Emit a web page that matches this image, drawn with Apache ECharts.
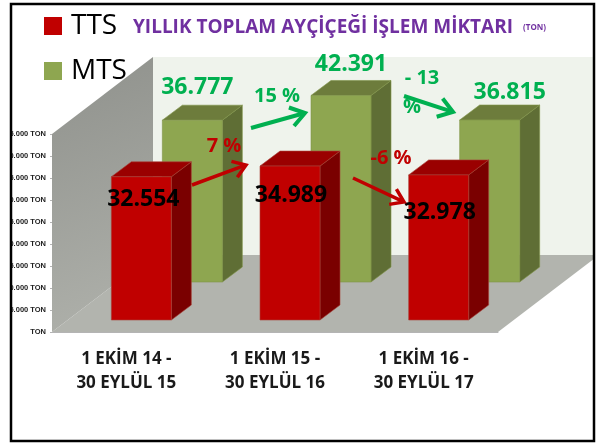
<!DOCTYPE html>
<html><head><meta charset="utf-8">
<style>html,body{margin:0;padding:0;background:#fff}#c{width:599px;height:443px}</style>
<script src="https://cdn.jsdelivr.net/npm/echarts@6/dist/echarts.min.js"></script></head>
<body><div id="c"></div>
<script>
const categories = ['1 EKİM 14 -\n30 EYLÜL 15', '1 EKİM 15 -\n30 EYLÜL 16', '1 EKİM 16 -\n30 EYLÜL 17'];
const ttsValues = [32554, 34989, 32978];
const mtsValues = [36777, 42391, 36815];
const yTicks = ['TON','5.000 TON','10.000 TON','15.000 TON','20.000 TON','25.000 TON','30.000 TON','35.000 TON','40.000 TON','45.000 TON'];
const FONT = '"Open Sans", sans-serif';
const fmt = v => String(v).replace(/(\d+)(\d{3})$/, '$1.$2');
const WALL_DX = 101, WALL_DY = 77, BAR_W = 60, SIDE_DX = 20, SIDE_DY = 15;

function wall(params, api) {
  const r = params.coordSys;
  const x0 = r.x, x1 = r.x + r.width, yT = r.y, yB = r.y + r.height;
  const poly = (pts, fill) => ({type:'polygon', shape:{points:pts}, style:{fill}});
  return {type:'group', children:[
    poly([[x0+WALL_DX,yT-WALL_DY],[x1+WALL_DX,yT-WALL_DY],[x1+WALL_DX,yB-WALL_DY],[x0+WALL_DX,yB-WALL_DY]], '#eff3ec'),
    poly([[x0,yB],[x1,yB],[x1+WALL_DX,yB-WALL_DY],[x0+WALL_DX,yB-WALL_DY]], '#b2b4ae'),
    poly([[x0,yT],[x0+WALL_DX,yT-WALL_DY],[x0+WALL_DX,yB-WALL_DY],[x0,yB]],
      new echarts.graphic.LinearGradient(0,0,1,1,[{offset:0,color:'#8f918c'},{offset:1,color:'#b0b2ac'}]))
  ]};
}
function bar3d(cfg) {
  return function (params, api) {
    const i = api.value(0), v = api.value(1);
    const top = api.coord([i, v]), base = api.coord([i, 0]);
    const x = base[0] - BAR_W/2 + cfg.shift, xr = x + BAR_W;
    const yB = base[1] - cfg.lift, yT = top[1] - cfg.lift;
    const poly = (pts, fill) => ({type:'polygon', shape:{points:pts}, style:{fill, stroke:cfg.edge, lineWidth:.6}});
    const off = cfg.labelOffset[i];
    return {type:'group', children:[
      poly([[xr,yT],[xr+SIDE_DX,yT-SIDE_DY],[xr+SIDE_DX,yB-SIDE_DY],[xr,yB]], cfg.side),
      poly([[x,yT],[x+SIDE_DX,yT-SIDE_DY],[xr+SIDE_DX,yT-SIDE_DY],[xr,yT]], cfg.top),
      poly([[x,yT],[xr,yT],[xr,yB],[x,yB]], cfg.front),
      {type:'text', z2:50, style:{text:fmt(v), x:x+BAR_W/2+off[0], y:yT+off[1], align:'center', verticalAlign:'middle',
        fill:cfg.text, font:'bold 23px '+FONT}}
    ]};
  };
}
function arrow(x1,y1,x2,y2,color,w,head){
  const a = Math.atan2(y2-y1,x2-x1), s = 0.6;
  const p = (ang)=>[x2-head*Math.cos(a+ang), y2-head*Math.sin(a+ang)];
  const st = {stroke:color, lineWidth:w, fill:null, lineCap:'butt', lineJoin:'miter'};
  return [
    {type:'polyline', z:60, shape:{points:[[x1,y1],[x2-2*Math.cos(a),y2-2*Math.sin(a)]]}, style:st},
    {type:'polyline', z:60, shape:{points:[p(s),[x2,y2],p(-s)]}, style:st}
  ];
}
const pct = (t,x,y,c) => ({type:'text', z:60, x, y, style:{text:t, fill:c, font:'bold 20px '+FONT, align:'center', verticalAlign:'middle'}});
const RED='#c00000', GRN='#00b050';
const chart = echarts.init(document.getElementById('c'), null, {renderer:'canvas'});
chart.setOption({
  animation:false,
  backgroundColor:'#fff',
  title:{left:133, top:18, padding:0, text:'{a|YILLIK TOPLAM AYÇİÇEĞİ İŞLEM MİKTARI}  {b|(TON)}',
    textStyle:{rich:{a:{fontFamily:FONT,fontWeight:'bold',fontSize:19,color:'#7030a0'},b:{fontFamily:FONT,fontWeight:'bold',fontSize:8,color:'#7030a0'}}}},
  legend:{left:44, top:7, padding:0, orient:'vertical', icon:'rect', itemWidth:18, itemHeight:18, itemGap:7, selectedMode:false,
    data:['TTS','MTS'], textStyle:{fontFamily:FONT, fontSize:28, lineHeight:38, color:'#000', padding:[0,0,0,4]}},
  grid:{left:52, right:101, top:134, bottom:111},
  xAxis:{type:'category', data:categories, axisLine:{lineStyle:{color:'#b4b4b4',width:1}}, axisTick:{length:5,lineStyle:{color:'#b4b4b4'}},
    axisLabel:{margin:15, color:'#1a1a1a', fontFamily:FONT, fontWeight:'bold', fontSize:17, lineHeight:24, interval:0}},
  yAxis:{type:'value', min:0, max:45000, interval:5000, splitLine:{show:false}, axisLine:{show:false},
    axisTick:{show:true,length:2,lineStyle:{color:'#b4b4b4'}},
    axisLabel:{margin:6, color:'#222', fontFamily:'"Liberation Sans", Arial, sans-serif', fontWeight:'bold', fontSize:7.5,
      formatter:(v)=>yTicks[Math.round(v/5000)]}},
  series:[
    {type:'custom', name:'wall', silent:true, z:1, clip:false, data:[[0,0]], renderItem:wall, legendHoverLink:false},
    {type:'custom', name:'MTS', z:2, clip:false, itemStyle:{color:'#8ea650'}, encode:{x:0,y:1},
      data:mtsValues.map((v,i)=>[i,v]),
      renderItem:bar3d({shift:66,lift:50,front:'#8ea650',top:'#6d7c3c',side:'#5f6e35',edge:'#7f9448',text:GRN,labelOffset:[[5,-33],[10,-31],[20,-28]]})},
    {type:'custom', name:'TTS', z:3, clip:false, itemStyle:{color:'#c00000'}, encode:{x:0,y:1},
      data:ttsValues.map((v,i)=>[i,v]),
      renderItem:bar3d({shift:15,lift:12,front:'#c00000',top:'#9a0000',side:'#7a0000',edge:'#a8443a',text:'#000',labelOffset:[[2,23],[1,29],[1,38]]})}
  ],
  graphic:[
    ...arrow(192,185,246,165,RED,3.5,15),
    ...arrow(251,128,305,113,GRN,4,17),
    ...arrow(353,178,404,202,RED,3.5,15),
    ...arrow(404,96,453,112,GRN,4,17),
    pct('7 %',224,146,RED), pct('15 %',277,96,GRN), pct('-6 %',391,158,RED),
    pct('- 13',422,78,GRN), pct('%',412,107,GRN),
    {type:'rect', z:90, shape:{x:0,y:0,width:10,height:443}, style:{fill:'#fff'}},
    {type:'rect', z:90, shape:{x:595,y:0,width:4,height:443}, style:{fill:'#fff'}},
    {type:'rect', z:91, shape:{x:11,y:4,width:583,height:437}, style:{fill:null,stroke:'#000',lineWidth:2.5}}
  ]
});
</script></body></html>
